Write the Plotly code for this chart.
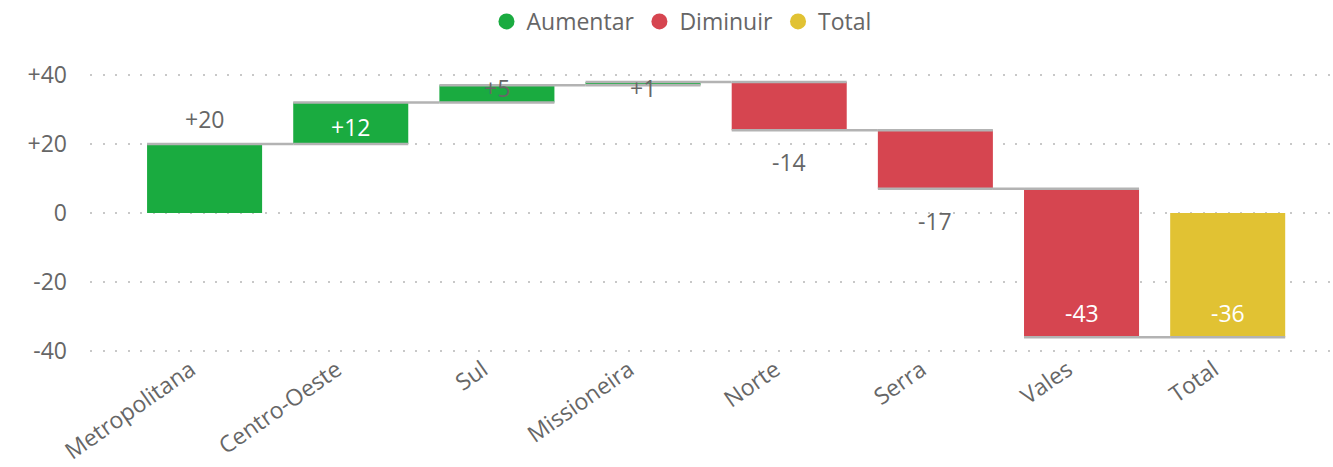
import plotly.graph_objects as go

# ---- data ----
categories = ["Metropolitana", "Centro-Oeste", "Sul", "Missioneira", "Norte", "Serra", "Vales", "Total"]
values = [20, 12, 5, 1, -14, -17, -43, -36]
measures = ["relative"] * 7 + ["total"]
tick_vals = [40, 20, 0, -20, -40]
tick_text = ["+40", "+20", "0", "-20", "-40"]
legend_names = ["Aumentar", "Diminuir", "Total"]

# label placement style per bar
label_place = ["above", "middle", "top", "top", "below", "below", "inside_end", "inside_end"]

GREEN = "#1AAB40"
RED = "#D64550"
YELLOW = "#E1C233"
GRAY_TXT = "#666666"
FONT = "Open Sans"
FS = 23

Y_RANGE = [-42.6, 44.35]
X_RANGE = [-0.784, 7.70]

fig = go.Figure()
fig.add_trace(go.Waterfall(
    x=categories, y=values, measure=measures,
    increasing=dict(marker=dict(color=GREEN, line=dict(width=0))),
    decreasing=dict(marker=dict(color=RED, line=dict(width=0))),
    totals=dict(marker=dict(color=YELLOW, line=dict(width=0))),
    connector=dict(mode="spanning", line=dict(color="#B3B3B3", width=2.5)),
    textposition="none", showlegend=False, hoverinfo="x+y",
))

for name, col in zip(legend_names, [GREEN, RED, YELLOW]):
    fig.add_trace(go.Scatter(x=[None], y=[None], mode="markers", name=name,
                             marker=dict(color=col, size=20, symbol="circle")))

# labels
ann = []
cum = 0
for cat, v, meas, place in zip(categories, values, measures, label_place):
    if meas == "total":
        start, end = 0, v
    else:
        start, end = cum, cum + v
        cum = end
    txt = ("+" if v > 0 else "") + str(v)
    color = GRAY_TXT
    if place == "above":
        y, ys = end, 25
    elif place == "middle":
        y, ys = (start + end) / 2, -4
        color = "white"
    elif place == "top":
        y, ys = Y_RANGE[1], -28
    elif place == "below":
        y, ys = end, -32
    else:
        y, ys = end, 24
        color = "white"
    ann.append(dict(x=cat, y=y, yshift=ys, text=txt, showarrow=False,
                    xref="x", yref="y", yanchor="middle",
                    font=dict(family=FONT, size=FS, color=color)))

fig.update_layout(
    width=1333, height=467,
    margin=dict(l=90, r=3, t=60, b=107, autoexpand=False),
    paper_bgcolor="white", plot_bgcolor="white",
    waterfallgap=0.213,
    font=dict(family=FONT, size=FS, color=GRAY_TXT),
    legend=dict(orientation="h", x=0.477, xanchor="center", y=1.0, yanchor="top",
                yref="container", font=dict(family=FONT, size=FS, color=GRAY_TXT),
                itemsizing="trace", itemwidth=30),
    annotations=ann,
    showlegend=True,
)
fig.update_xaxes(range=X_RANGE, tickangle=-35, showgrid=False, showline=False,
                 zeroline=False, automargin=False, ticklabelshift=-14,
                 ticklabelstandoff=-9,
                 tickfont=dict(family=FONT, size=FS, color=GRAY_TXT))
fig.update_yaxes(range=Y_RANGE, tickvals=tick_vals, ticktext=tick_text,
                 showgrid=True, gridcolor="#C8C8C8", gridwidth=2, griddash="2px,10.5px",
                 zeroline=False, showline=False, ticks="", ticklabelstandoff=22,
                 automargin=False,
                 tickfont=dict(family=FONT, size=FS, color=GRAY_TXT))

fig.write_html("out.html", post_script="document.body.style.margin='0';",
               config={"displayModeBar": False})
